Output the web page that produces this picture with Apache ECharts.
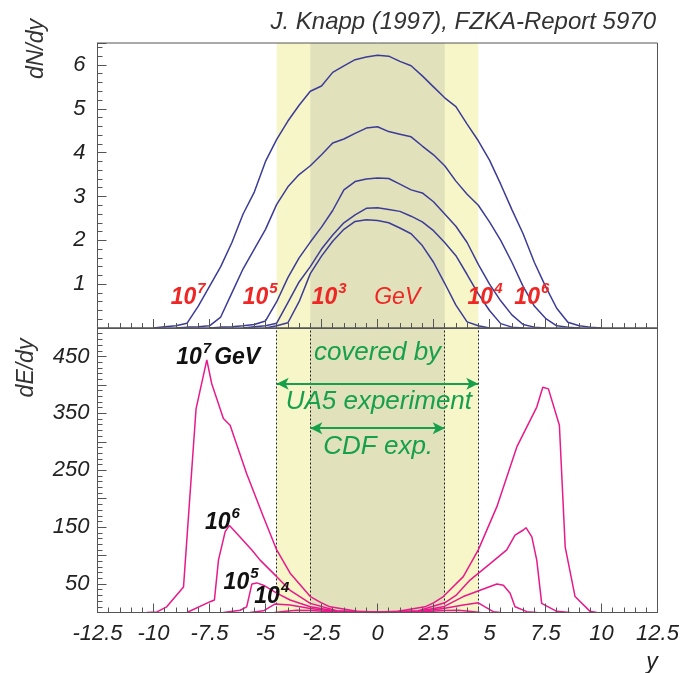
<!DOCTYPE html>
<html>
<head>
<meta charset="utf-8">
<script src="https://cdn.jsdelivr.net/npm/echarts@6/dist/echarts.min.js"></script>
<style>
  html, body { margin: 0; padding: 0; background: #fff; }
  #chart { width: 696px; height: 673px; }
</style>
</head>
<body>
<div id="chart"></div>
<script>
// Rapidity grid shared by the dN/dy curves
const rapidity = [-10,-9.5,-9,-8.5,-8,-7.5,-7,-6.5,-6,-5.5,-5,-4.5,-4,-3.5,-3,-2.5,-2,-1.5,-1,-0.5,0,
                  0.5,1,1.5,2,2.5,3,3.5,4,4.5,5,5.5,6,6.5,7,7.5,8,8.5,9,9.5,10];

// dN/dy of charged particles, primary energy 10^7 ... 10^3 GeV
const dndy1e7 = [0,0.03,0.05,0.11,0.5,0.95,1.4,1.95,2.6,3.1,3.8,4.3,4.72,5.08,5.4,5.52,5.83,5.98,6.12,6.18,6.22,
                 6.2,6.08,5.98,5.75,5.5,5.25,5.05,4.65,4.27,3.83,3.28,2.7,2.15,1.5,0.95,0.45,0.13,0.05,0.02,0];
const dndy1e6 = [null,null,0,0.02,0.03,0.05,0.25,0.8,1.35,1.8,2.25,2.82,3.22,3.5,3.7,3.95,4.22,4.31,4.44,4.56,4.59,
                 4.48,4.42,4.36,4.15,3.95,3.7,3.35,3.05,2.8,2.42,2.0,1.5,0.95,0.5,0.22,0.05,0.02,0,null,null];
const dndy1e5 = [null,null,null,null,null,0,0.02,0.03,0.05,0.08,0.16,0.6,1.15,1.6,1.96,2.3,2.68,3.15,3.34,3.40,3.42,
                 3.41,3.28,3.15,3.08,2.88,2.6,2.32,1.95,1.45,1.0,0.62,0.3,0.08,0.02,0,null,null,null,null,null];
const dndy1e4 = [null,null,null,null,null,null,null,null,0,0.03,0.05,0.11,0.58,1.05,1.4,1.8,2.12,2.4,2.58,2.73,2.74,
                 2.7,2.66,2.55,2.42,2.22,1.95,1.65,1.22,0.78,0.4,0.1,0.02,0,null,null,null,null,null,null,null];
const dndy1e3 = [null,null,null,null,null,null,null,null,null,null,0,0.05,0.12,0.6,1.24,1.64,1.98,2.25,2.43,2.47,2.45,
                 2.40,2.28,2.15,1.88,1.5,1.02,0.52,0.14,0.05,0,null,null,null,null,null,null,null,null,null,null];

// dE/dy of the same showers (GeV per unit rapidity)
const dedy1e7Y = [-10.3,-9.85,-9.41,-8.66,-8.1,-7.62,-7.4,-6.88,-6.58,-5.84,-5.09,-4.5,-3.9,-3.0,-2.5,-2.12,-0.92,0,
                  0.92,2.12,2.5,2.94,3.83,4.5,5.33,6.22,7.11,7.38,7.63,8.12,8.38,8.82,9.49,9.79];
const dedy1e7 = [0,1,10,45,358,444,402,341,329,244,168,110,69,28,17,10,2,1,
                 2,10,17,28,63,110,186,291,361,396,393,329,115,28,2,0];
const dedy1e6Y = [-8.51,-7.47,-7.28,-7.1,-6.8,-6.61,-6.28,-5.61,-5.24,-4.5,-3.9,-3.0,-1.82,0,
                  1.82,3.0,3.5,4.13,5.03,5.77,6.14,6.51,6.63,6.89,7.11,7.33,8.0,8.6];
const dedy1e6 = [0,19,22,92,142,153,139,110,92,63,39,16,3,0.5,
                 3,17,30,57,86,110,136,145,149,133,92,16,2,0];
const dedy1e5Y = [-6.88,-6.13,-5.84,-5.61,-5.39,-5.09,-4.5,-3.9,-3.0,-1.8,0,1.8,2.94,3.83,4.58,5.33,5.62,5.92,6.14,6.67,7.11];
const dedy1e5 = [0,4,10,50,52,48,34,22,10,2,0.3,2,10,28,39,50,48,34,10,1.5,0];
const dedy1e4Y = [-5.69,-5.09,-4.57,-3.9,-3.0,-1.8,0,1.8,2.94,3.83,4.5,4.8,5.17,5.5];
const dedy1e4 = [0,3,15,13,7,1.5,0.2,1.5,7,13,17,10,1.5,0];
const dedy1e3Y = [-4.6,-4.1,-3.6,-3.0,-2.0,-1.0,0,1.0,2.0,3.0,3.6,4.1,4.6];
const dedy1e3 = [0,2,4,3.5,1.5,0.4,0.1,0.4,1.5,3.5,4,2,0];

// Rapidity acceptance of the collider experiments
const ua5Range = [-4.5, 4.5];
const cdfRange = [-3, 3];

// Axis ticks
const xTicks = [-12.5, 12.5, 2.5];
const dndyLabels = [1, 2, 3, 4, 5, 6];
const dedyLabels = [50, 150, 250, 350, 450];

const FONT = "'Liberation Sans', Arial, sans-serif";
const NAVY = '#3c3c98';
const PINK = '#e8198a';
const GREEN = '#17a04c';
const RED = '#ee2624';
const BAND_OUT = '#f6f6c8';
const BAND_IN = '#e1e1bc';
const AXIS = '#555';

const pairs = (xs, ys) => xs.map((x, i) => [x, ys[i]]);

function sup(base, exp, extra) {
  return '{b|' + base + '}{s|' + exp + '}' + (extra ? '{g|' + extra + '}' : '');
}
function richFor(color) {
  return {
    b: { fontSize: 23, fontWeight: 'bold', fontStyle: 'italic', color: color, fontFamily: FONT, lineHeight: 28, verticalAlign: 'bottom' },
    s: { fontSize: 15, fontWeight: 'bold', fontStyle: 'italic', color: color, fontFamily: FONT, verticalAlign: 'top', lineHeight: 28, padding: [0, 0, 0, 1] },
    g: { fontSize: 23, fontWeight: 'bold', fontStyle: 'italic', color: color, fontFamily: FONT, lineHeight: 28, verticalAlign: 'bottom', padding: [0, 0, 0, 3] },
    t: { fontSize: 23, fontWeight: 'normal', fontStyle: 'italic', color: color, fontFamily: FONT, lineHeight: 28, verticalAlign: 'bottom' }
  };
}
function textPoint(coord, formatter, rich) {
  return { coord: coord, symbolSize: 0, label: { show: true, position: 'inside', formatter: formatter, rich: rich } };
}

const redRich = richFor(RED);
const blackRich = richFor('#111');
const greenLabel = (coord, text) => ({
  coord: coord, symbolSize: 0,
  label: { show: true, position: 'inside', formatter: text, fontSize: 26, fontStyle: 'italic', color: GREEN, fontFamily: FONT }
});

function axisCommon() {
  return {
    z: 10,
    axisLine: { show: true, onZero: false, lineStyle: { color: AXIS, width: 1 } },
    axisTick: { show: true, inside: true, length: 9, lineStyle: { color: AXIS } },
    minorTick: { show: true, splitNumber: 5, length: 5, lineStyle: { color: AXIS } },
    splitLine: { show: false }
  };
}
const labelStyle = { fontSize: 22, fontStyle: 'italic', color: '#222', fontFamily: FONT };

const chart = echarts.init(document.getElementById('chart'), null, { renderer: 'canvas' });

const lineSeries = (xi, data, color) => ({
  type: 'line', xAxisIndex: xi, yAxisIndex: xi, showSymbol: false, z: 3,
  lineStyle: { color: color, width: 1.5 }, data: data
});

const option = {
  animation: false,
  backgroundColor: '#fff',
  title: {
    text: 'J. Knapp (1997), FZKA-Report 5970',
    right: 35, top: 5,
    textStyle: { fontSize: 24, fontStyle: 'italic', fontWeight: 'normal', color: '#333', fontFamily: FONT }
  },
  grid: [
    { left: 97.5, right: 38.5, top: 43, height: 285, show: true, z: 10, borderColor: AXIS, borderWidth: 1, backgroundColor: 'transparent' },
    { left: 97.5, right: 38.5, top: 328, height: 284.5, show: true, z: 10, borderColor: AXIS, borderWidth: 1, backgroundColor: 'transparent' }
  ],
  xAxis: [
    Object.assign(axisCommon(), { gridIndex: 0, type: 'value', min: xTicks[0], max: xTicks[1], interval: xTicks[2],
      axisLabel: { show: false } }),
    Object.assign(axisCommon(), { gridIndex: 1, type: 'value', min: xTicks[0], max: xTicks[1], interval: xTicks[2],
      axisLabel: Object.assign({ show: true, margin: 10, formatter: v => String(v) }, labelStyle) })
  ],
  yAxis: [
    Object.assign(axisCommon(), { gridIndex: 0, type: 'value', min: 0, max: 6.5, interval: 1,
      axisLabel: Object.assign({ show: true, margin: 12,
        formatter: v => dndyLabels.indexOf(v) >= 0 ? String(v) : '' }, labelStyle) }),
    Object.assign(axisCommon(), { gridIndex: 1, type: 'value', min: 0, max: 500, interval: 50,
      axisLabel: Object.assign({ show: true, margin: 8,
        formatter: v => dedyLabels.indexOf(v) >= 0 ? String(v) : '' }, labelStyle) })
  ],
  graphic: [
    { type: 'text', x: 37, y: 49, rotation: Math.PI / 2,
      style: { text: 'dN/dy', font: 'italic 23px ' + FONT, fill: '#333', align: 'center', verticalAlign: 'middle' } },
    { type: 'text', x: 27, y: 368, rotation: Math.PI / 2,
      style: { text: 'dE/dy', font: 'italic 23px ' + FONT, fill: '#333', align: 'center', verticalAlign: 'middle' } },
    { type: 'text', x: 652, y: 663,
      style: { text: 'y', font: 'italic 23px ' + FONT, fill: '#222', align: 'center', verticalAlign: 'middle' } }
  ],
  series: [
    // ---- upper panel: dN/dy ----
    Object.assign(lineSeries(0, pairs(rapidity, dndy1e7), NAVY), {
      markArea: {
        silent: true, z: 1,
        data: [
          [{ xAxis: ua5Range[0], itemStyle: { color: BAND_OUT } }, { xAxis: ua5Range[1] }],
          [{ xAxis: cdfRange[0], itemStyle: { color: BAND_IN } }, { xAxis: cdfRange[1] }]
        ]
      },
      markPoint: {
        silent: true,
        data: [
          textPoint([-8.45, 0.75], sup('10', '7'), redRich),
          textPoint([-5.24, 0.75], sup('10', '5'), redRich),
          textPoint([-2.16, 0.75], sup('10', '3'), redRich),
          textPoint([0.88, 0.75], '{t|GeV}', redRich),
          textPoint([4.8, 0.75], sup('10', '4'), redRich),
          textPoint([6.89, 0.75], sup('10', '6'), redRich)
        ]
      }
    }),
    lineSeries(0, pairs(rapidity, dndy1e6), NAVY),
    lineSeries(0, pairs(rapidity, dndy1e5), NAVY),
    lineSeries(0, pairs(rapidity, dndy1e4), NAVY),
    lineSeries(0, pairs(rapidity, dndy1e3), NAVY),

    // ---- lower panel: dE/dy ----
    Object.assign(lineSeries(1, pairs(dedy1e7Y, dedy1e7), PINK), {
      markArea: {
        silent: true, z: 1,
        data: [
          [{ xAxis: ua5Range[0], itemStyle: { color: BAND_OUT } }, { xAxis: ua5Range[1] }],
          [{ xAxis: cdfRange[0], itemStyle: { color: BAND_IN } }, { xAxis: cdfRange[1] }]
        ]
      },
      markLine: {
        silent: true, symbol: 'none', z: 2,
        label: { show: false },
        lineStyle: { color: '#222', width: 1, type: [2, 2] },
        data: [
          { xAxis: ua5Range[0] }, { xAxis: cdfRange[0] }, { xAxis: cdfRange[1] }, { xAxis: ua5Range[1] }
        ]
      },
      markPoint: {
        silent: true,
        data: [
          textPoint([-7.11, 452], sup('10', '7', 'GeV'), blackRich),
          textPoint([-6.92, 162], sup('10', '6'), blackRich),
          textPoint([-6.09, 57], sup('10', '5'), blackRich),
          textPoint([-4.72, 32], sup('10', '4'), blackRich),
          greenLabel([0, 457], 'covered by'),
          greenLabel([0.06, 371], 'UA5 experiment'),
          greenLabel([0.03, 292], 'CDF exp.')
        ]
      }
    }),
    lineSeries(1, pairs(dedy1e6Y, dedy1e6), PINK),
    lineSeries(1, pairs(dedy1e5Y, dedy1e5), PINK),
    lineSeries(1, pairs(dedy1e3Y, dedy1e3), PINK),
    Object.assign(lineSeries(1, pairs(dedy1e4Y, dedy1e4), PINK), {
      // acceptance arrows
      markLine: {
        silent: true, z: 6,
        symbol: ['arrow', 'arrow'], symbolSize: [9, 12],
        label: { show: false },
        lineStyle: { color: GREEN, width: 2, type: 'solid' },
        data: [
          [{ coord: [ua5Range[0], 402] }, { coord: [ua5Range[1], 402] }],
          [{ coord: [cdfRange[0], 324] }, { coord: [cdfRange[1], 324] }]
        ]
      }
    })
  ]
};

chart.setOption(option);
</script>
</body>
</html>
